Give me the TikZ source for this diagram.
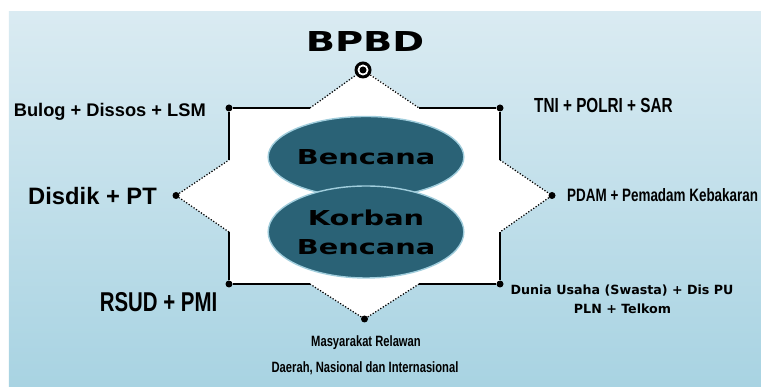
\documentclass[tikz,border=0pt]{standalone}
\usepackage{fontspec}
\setmainfont{Liberation Sans}
\newfontfamily\widefont{DejaVu Sans}[FakeStretch=1.4]
\newfontfamily\narrowfont{Liberation Sans}[FakeStretch=0.75]
\newfontfamily\dejavu{DejaVu Sans}
\usetikzlibrary{shapes.geometric}

\definecolor{bgtop}{RGB}{218,235,242}
\definecolor{bgbot}{RGB}{168,211,226}
\definecolor{ellfill}{RGB}{42,98,118}
\definecolor{ellline}{RGB}{160,205,220}

\tikzset{
  dot/.style={circle,fill=black,inner sep=0pt,minimum size=1.4mm},
  solidline/.style={line width=0.9pt},
  dotline/.style={densely dotted,line width=0.7pt},
  ell/.style={ellipse,fill=ellfill,draw=ellline,line width=0.8pt,
    minimum width=3.72cm,inner sep=0pt,align=center,
    font={\widefont\bfseries\fontsize{11.7}{16.5}\selectfont}},
}

\begin{document}
\begin{tikzpicture}[scale=1]

\useasboundingbox (0,0) rectangle (15.22,7.74);

% Latar
\shade[top color=bgtop,bottom color=bgbot] (0.18,0) rectangle (15.22,7.50);

% Titik sudut
\coordinate (a) at (6.20,5.58);
\coordinate (b) at (8.38,5.58);
\coordinate (c) at (10.00,4.54);
\coordinate (d) at (10.00,3.10);
\coordinate (e) at (8.38,2.06);
\coordinate (f) at (6.20,2.06);
\coordinate (g) at (4.58,3.10);
\coordinate (h) at (4.58,4.54);

% Bintang
\fill[white,opacity=0.35] (4.58,5.58) -- (a) -- (7.29,6.34) -- (b) -- (10.00,5.58) -- (c)
  -- (11.04,3.83) -- (d) -- (10.00,2.06) -- (e) -- (7.29,1.36) -- (f) -- (4.58,2.06)
  -- (g) -- (3.52,3.83) -- (h) -- cycle;
\fill[white] (4.58,5.58) -- (a) -- (7.29,6.34) -- (b) -- (10.00,5.58) -- (c)
  -- (11.04,3.83) -- (d) -- (10.00,2.06) -- (e) -- (7.29,1.36) -- (f) -- (4.58,2.06)
  -- (g) -- (3.52,3.83) -- (h) -- cycle;

\node[dot] (tl) at (4.58,5.58) {};
\node[dot] (tr) at (10.00,5.58) {};
\node[dot] (br) at (10.00,2.06) {};
\node[dot] (bl) at (4.58,2.06) {};
\node[dot] (lft) at (3.52,3.83) {};
\node[dot] (rgt) at (11.04,3.83) {};
\node[dot] (bot) at (7.29,1.36) {};
\node[circle,fill=black,inner sep=0pt,minimum size=3.4mm] (ring) at (7.26,6.34) {};
\fill[white] (ring.center) circle (1.1mm);
\fill[black] (ring.center) circle (0.7mm);

\draw[solidline] (tl) -- (a);
\draw[dotline] (a) -- (ring);
\draw[dotline] (ring) -- (b);
\draw[solidline] (b) -- (tr) -- (c);
\draw[dotline] (c) -- (rgt) -- (d);
\draw[solidline] (d) -- (br) -- (e);
\draw[dotline] (e) -- (bot) -- (f);
\draw[solidline] (f) -- (bl) -- (g);
\draw[dotline] (g) -- (lft) -- (h);
\draw[solidline] (h) -- (tl);

% Elips
\node[ell,minimum height=1.62cm] (bencana) at (7.32,4.60) {Bencana};
\node[ell,minimum height=1.84cm] (korban) at (7.32,3.10) {Korban\\Bencana};

% Label
\node[anchor=base,font={\widefont\bfseries\fontsize{15.6}{18}\selectfont}] (bpbd) at (7.30,6.70) {BPBD};
\node[anchor=base east,font={\bfseries\fontsize{10.4}{12}\selectfont}] (bulog) at (4.24,5.40) {Bulog + Dissos + LSM};
\node[anchor=base east,font={\bfseries\fontsize{13.5}{15}\selectfont}] (disdik) at (3.26,3.64) {Disdik + PT};
\node[anchor=base,font={\narrowfont\bfseries\fontsize{15.5}{17}\selectfont}] (rsud) at (3.17,1.50) {RSUD + PMI};
\node[anchor=base west,font={\narrowfont\bfseries\fontsize{11.6}{13}\selectfont}] (tni) at (10.56,5.48) {TNI + POLRI + SAR};
\node[anchor=base west,font={\narrowfont\bfseries\fontsize{10.2}{12}\selectfont}] (pdam) at (11.22,3.70) {PDAM + Pemadam Kebakaran};
\node[anchor=base,font={\dejavu\bfseries\fontsize{7.2}{9}\selectfont}] (dunia) at (12.44,1.84) {Dunia Usaha (Swasta) + Dis PU};
\node[anchor=base,font={\dejavu\bfseries\fontsize{7.2}{9}\selectfont}] (pln) at (12.45,1.46) {PLN + Telkom};
\node[anchor=base,font={\narrowfont\bfseries\fontsize{8.5}{10}\selectfont}] (masy) at (7.32,0.80) {Masyarakat Relawan};
\node[anchor=base,font={\narrowfont\bfseries\fontsize{8.5}{10}\selectfont}] (daerah) at (7.30,0.28) {Daerah, Nasional dan Internasional};

\end{tikzpicture}
\end{document}
